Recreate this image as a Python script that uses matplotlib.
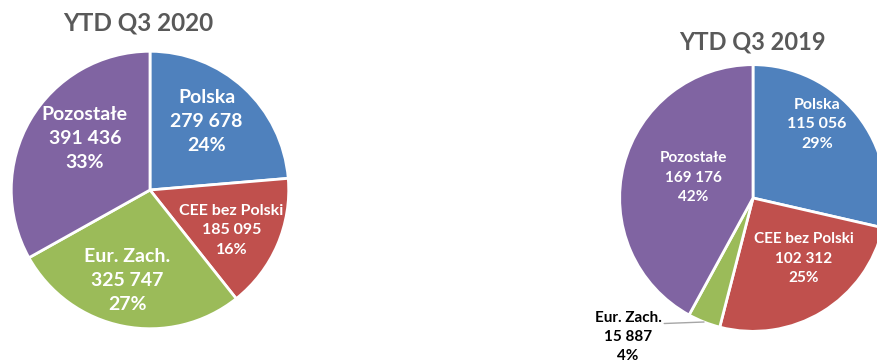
import numpy as np
import matplotlib
matplotlib.use("Agg")
import matplotlib.pyplot as plt

# data
categories = ["Polska", "CEE bez Polski", "Eur. Zach.", "Pozostałe"]
values_2020 = [279678, 185095, 325747, 391436]
pct_2020 = [24, 16, 27, 33]
values_2019 = [115056, 102312, 15887, 169176]
pct_2019 = [29, 25, 4, 42]

colors = ["#4F81BD", "#C0504D", "#9BBB59", "#8064A2"]
W, H = 878, 360
plt.rcParams["font.family"] = ["Lato", "DejaVu Sans"]


def fmt(v):
    return f"{v:,}".replace(",", " ")


def pie_axes(fig, cx, cy, r):
    # cx, cy in pixels from top-left
    return fig.add_axes([(cx - r) / W, (H - cy - r) / H, 2 * r / W, 2 * r / H])


def draw_pie(ax, values, pcts, dists, shifts, sizes, spacing, inside):
    wedges, _ = ax.pie(values, colors=colors, startangle=90, counterclock=False,
                       radius=1, wedgeprops=dict(edgecolor="white", linewidth=2))
    ax.set_xlim(-1.02, 1.02)
    ax.set_ylim(-1.02, 1.02)
    ax.set_aspect("auto")
    ax.axis("off")
    for w, cat, v, p, d, sh, s, ins in zip(wedges, categories, values, pcts,
                                           dists, shifts, sizes, inside):
        if not ins:
            continue
        ang = np.deg2rad((w.theta1 + w.theta2) / 2 + sh)
        ax.text(d * np.cos(ang), d * np.sin(ang), f"{cat}\n{fmt(v)}\n{p}%",
                ha="center", va="center", color="white", fontsize=s,
                fontweight="bold", linespacing=spacing)
    return wedges


fig = plt.figure(figsize=(W / 100, H / 100), dpi=100)

# left pie: 2020
ax1 = pie_axes(fig, 150, 190, 141.5)
draw_pie(ax1, values_2020, pct_2020,
         dists=[0.64, 0.655, 0.67, 0.60], shifts=[3, -3, -3, -8],
         sizes=[14, 11.5, 14, 14], spacing=1.5, inside=[True] * 4)
fig.text(138 / W, 1 - 23 / H, "YTD Q3 2020", ha="center", va="center",
         fontsize=17.5, fontweight="bold", color="#595959")

# right pie: 2019
ax2 = pie_axes(fig, 753, 198, 136)
wedges2 = draw_pie(ax2, values_2019, pct_2019,
                   dists=[0.73, 0.595, 0.0, 0.473], shifts=[10.5, 8.7, 0, -4.3],
                   sizes=[11.5, 11, 11, 11], spacing=1.5,
                   inside=[True, True, False, True])
fig.text(752 / W, 1 - 42 / H, "YTD Q3 2019", ha="center", va="center",
         fontsize=17, fontweight="bold", color="#595959")

# outside label for the small slice, with a leader line
w = wedges2[2]
ang = np.deg2rad((w.theta1 + w.theta2) / 2)
ax2.annotate(f"{categories[2]}\n{fmt(values_2019[2])}\n{pct_2019[2]}%",
             xy=(np.cos(ang), np.sin(ang)), xycoords="data",
             xytext=(628 / W, 1 - 337 / H), textcoords="figure fraction",
             ha="center", va="center", fontsize=11, fontweight="bold", color="black",
             linespacing=1.45, annotation_clip=False,
             arrowprops=dict(arrowstyle="-", color="#A6A6A6", lw=1,
                             shrinkA=0, shrinkB=0, relpos=(1.04, 0.76)))

fig.savefig("out.png", dpi=100)
